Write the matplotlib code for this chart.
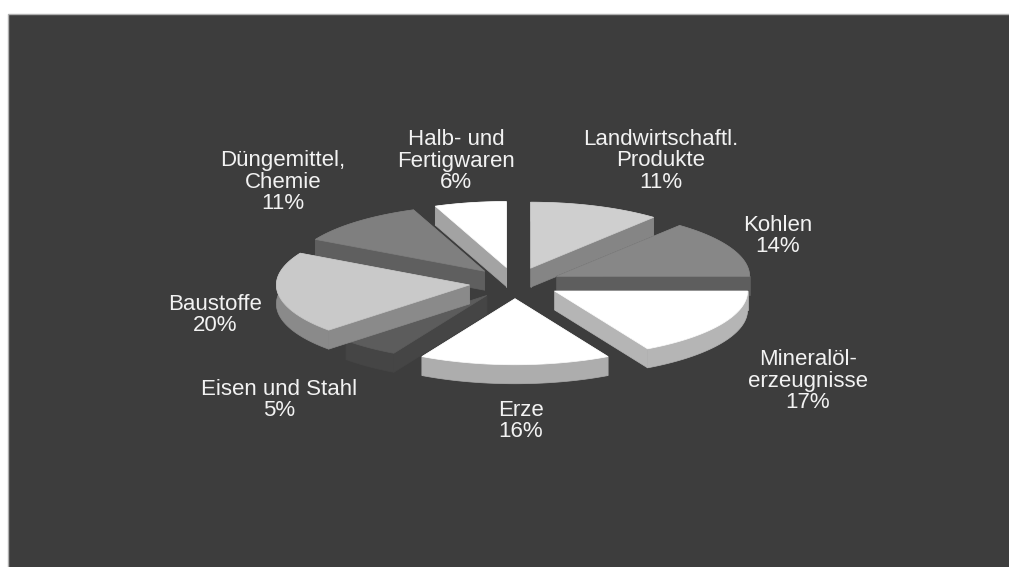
#!/usr/bin/env python3
# -*- coding: utf-8 -*-

import numpy as np
import matplotlib
matplotlib.use('Agg')
import matplotlib.pyplot as plt
from matplotlib.patches import Polygon, Rectangle

names=['Landwirtschaftl.\nProdukte', 'Kohlen', 'Mineralöl-\nerzeugnisse', 'Erze',
       'Eisen und Stahl', 'Baustoffe', 'Düngemittel,\nChemie', 'Halb- und\nFertigwaren']
shares=[11, 14, 17, 16, 5, 20, 11, 6]

top_colors=['#cfcfcf', '#878787', '#ffffff', '#ffffff', '#5c5c5c', '#c9c9c9', '#7f7f7f', '#ffffff']
side_colors=['#858585', '#5e5e5e', '#b5b5b5', '#adadad', '#454545', '#8a8a8a', '#5f5f5f', '#a3a3a3']
label_pos=[(661, 161), (778, 236), (808, 381), (521, 421), (279, 400), (215, 315), (283, 182), (456, 161)]

# back slices first, the front ones cover them
draw_order=[0, 7, 6, 1, 4, 5, 2, 3]

cx, cy=515, 283
rx, ry=193, 66
explode=46
depth=19

def wedge(a0, a1):
    mid=np.radians((a0+a1)/2)
    tx=cx+explode*np.sin(mid)
    ty=cy-explode*np.cos(mid)*ry/rx
    t=np.radians(np.linspace(a0, a1, 60))
    return tx, ty, tx+rx*np.sin(t), ty-ry*np.cos(t)

fig=plt.figure(figsize=(10.09, 5.67), dpi=100, facecolor='white')
ax=fig.add_axes((0, 0, 1, 1))
ax.set_xlim(0, 1009)
ax.set_ylim(567, 0)
ax.axis('off')

ax.add_patch(Rectangle((7.5, 14), 1010, 560, facecolor='#3d3d3d', edgecolor='#b0b0b0', lw=1))

edges=np.cumsum([0]+shares)*3.6
for i in draw_order:
    tx, ty, xs, ys=wedge(edges[i], edges[i+1])
    side=dict(closed=True, facecolor=side_colors[i], edgecolor=side_colors[i], lw=0.5)
    # two cut faces and the rim strip
    ax.add_patch(Polygon([(tx, ty), (xs[0], ys[0]), (xs[0], ys[0]+depth), (tx, ty+depth)], **side))
    ax.add_patch(Polygon([(tx, ty), (xs[-1], ys[-1]), (xs[-1], ys[-1]+depth), (tx, ty+depth)], **side))
    ax.add_patch(Polygon(np.r_[np.c_[xs, ys], np.c_[xs, ys+depth][::-1]], **side))
    ax.add_patch(Polygon(np.r_[[(tx, ty)], np.c_[xs, ys]], closed=True, facecolor=top_colors[i], edgecolor=top_colors[i], lw=0.5))

for name, share, (x, y) in zip(names, shares, label_pos):
    ax.text(x, y, f'{name}\n{share}%', ha='center', va='center', color='#f2f2f2',
            family='Liberation Sans', fontsize=16, linespacing=1.03)

fig.savefig('out.png', dpi=100)
